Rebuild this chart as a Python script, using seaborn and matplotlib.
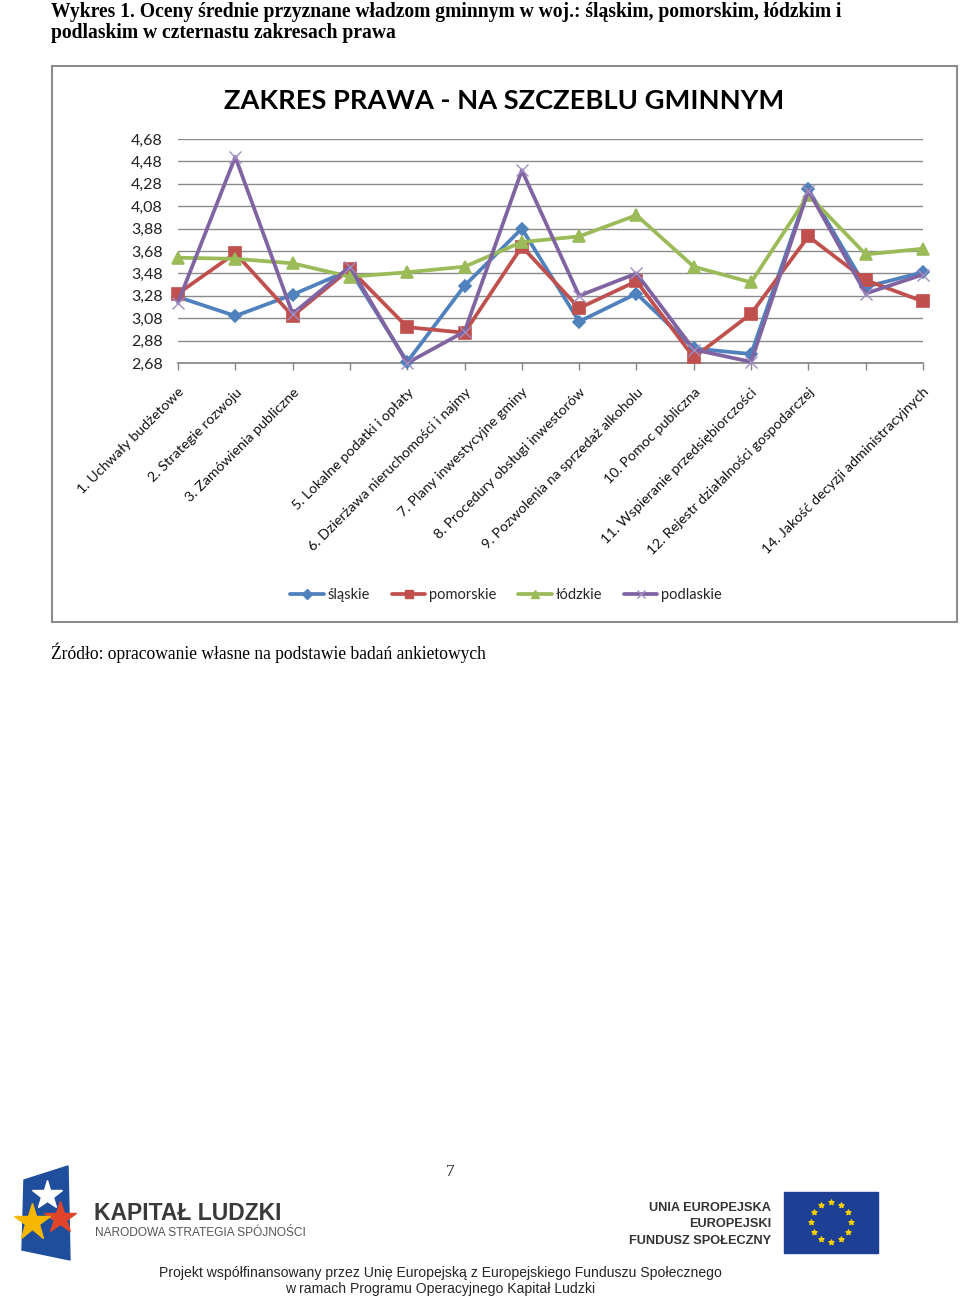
import numpy as np
import pandas as pd
import matplotlib
matplotlib.use("Agg")
import matplotlib.pyplot as plt
import matplotlib.patches as mpatches
import matplotlib.transforms as mtransforms
from matplotlib.lines import Line2D
import seaborn as sns

# ---------------- data ----------------
categories = [
    "1. Uchwały budżetowe", "2. Strategie rozwoju", "3. Zamówienia publiczne", "",
    "5. Lokalne podatki i opłaty", "6. Dzierżawa nieruchomości i najmy",
    "7. Plany inwestycyjne gminy", "8. Procedury obsługi inwestorów",
    "9. Pozwolenia na sprzedaż alkoholu", "10. Pomoc publiczna",
    "11. Wspieranie przedsiębiorczości", "12. Rejestr działalności gospodarczej", "",
    "14. Jakość decyzji administracyjnych",
]
series_names = ["śląskie", "pomorskie", "łódzkie", "podlaskie"]
slaskie   = [3.27, 3.10, 3.29, 3.51, 2.69, 3.37, 3.88, 3.05, 3.30, 2.81, 2.76, 4.23, 3.36, 3.49]
pomorskie = [3.30, 3.66, 3.10, 3.52, 3.00, 2.95, 3.72, 3.17, 3.41, 2.73, 3.12, 3.81, 3.42, 3.23]
lodzkie   = [3.62, 3.61, 3.57, 3.45, 3.49, 3.54, 3.76, 3.81, 4.00, 3.54, 3.40, 4.18, 3.65, 3.70]
podlaskie = [3.22, 4.52, 3.12, 3.54, 2.68, 2.96, 4.40, 3.28, 3.48, 2.80, 2.69, 4.22, 3.30, 3.47]
y_ticks = [2.68, 2.88, 3.08, 3.28, 3.48, 3.68, 3.88, 4.08, 4.28, 4.48, 4.68]

colors = {"śląskie": "#4F81BD", "pomorskie": "#C0504D", "łódzkie": "#9BBB59", "podlaskie": "#8064A2"}
markers = {"śląskie": "D", "pomorskie": "s", "łódzkie": "^", "podlaskie": "x"}
msizes = {"śląskie": 6.5, "pomorskie": 8.5, "łódzkie": 8.5, "podlaskie": 8.5}

df = pd.DataFrame({
    "pos": list(range(len(categories))) * 4,
    "value": slaskie + pomorskie + lodzkie + podlaskie,
    "woj": sum([[n] * len(categories) for n in series_names], []),
})

sns.set_theme(style="white")
plt.rcParams["font.family"] = ["Lato", "DejaVu Sans"]

W, H = 960, 1297
fig = plt.figure(figsize=(W / 100, H / 100), dpi=100)

# overlay axes in pixel coordinates for page decoration
page = fig.add_axes([0, 0, 1, 1], zorder=0)
page.set_xlim(0, W)
page.set_ylim(H, 0)
page.axis("off")

serif = ["Liberation Serif", "DejaVu Serif"]
narrow = ["Liberation Sans Narrow", "Liberation Sans", "DejaVu Sans"]
page.text(51, 12, "Wykres 1. Oceny średnie przyznane władzom gminnym w woj.: śląskim, pomorskim, łódzkim i",
          family=serif, fontweight="bold", fontsize=14.1, va="center", ha="left", color="black")
page.text(51, 33, "podlaskim w czternastu zakresach prawa",
          family=serif, fontweight="bold", fontsize=14.1, va="center", ha="left", color="black")

# chart frame
page.add_patch(mpatches.Rectangle((52, 66), 905, 556, fill=False, edgecolor="#8c8c8c", lw=1.5))
page.text(504, 101, "ZAKRES PRAWA - NA SZCZEBLU GMINNYM", fontsize=19.6, fontweight="bold",
          ha="center", va="center", color="black")

page.text(51, 653, "Źródło: opracowanie własne na podstawie badań ankietowych",
          family=serif, fontsize=12.65, va="center", ha="left", color="black")
page.text(450, 1172, "7", family=serif, fontsize=12.5, va="center", ha="center")

# footer logos (simplified)
page.add_patch(mpatches.Polygon([(24, 1180), (68, 1166), (70, 1260), (22, 1250)], closed=True,
                                color="#1f4e9c"))
page.plot([47], [1195], marker="*", color="white", markersize=22)
page.plot([60], [1218], marker="*", color="#e0452b", markersize=24)
page.plot([32], [1222], marker="*", color="#f5b700", markersize=28)
page.text(94, 1213, "KAPITAŁ LUDZKI", fontsize=16.5, color="#3a3a3a", ha="left", va="center",
          family=narrow, fontweight="bold")
page.text(95, 1233, "NARODOWA STRATEGIA SPÓJNOŚCI", fontsize=8.6, color="#555555", ha="left", va="center",
          family=narrow)
for yy, t in [(1208, "UNIA EUROPEJSKA"), (1224, "EUROPEJSKI"), (1241, "FUNDUSZ SPOŁECZNY")]:
    page.text(771, yy, t, fontsize=9.2, color="#333333", ha="right", va="center",
              family=narrow, fontweight="bold")
page.add_patch(mpatches.Rectangle((784, 1192), 94, 61, color="#1d3f94"))
ang = np.linspace(0, 2 * np.pi, 12, endpoint=False)
page.scatter(831 + 20 * np.cos(ang), 1222 + 20 * np.sin(ang), marker="*", s=14, color="#f5d000", zorder=3)
page.text(440, 1273, "Projekt współfinansowany przez Unię Europejską z Europejskiego Funduszu Społecznego",
          family=["Liberation Sans", "DejaVu Sans"], fontsize=10.1, ha="center", va="center")
page.text(440, 1289, "w ramach Programu Operacyjnego Kapitał Ludzki",
          family=["Liberation Sans", "DejaVu Sans"], fontsize=10.1, ha="center", va="center")

# ---------------- chart ----------------
ax = fig.add_axes([178 / W, 1 - 363 / H, (923 - 178) / W, (363 - 139) / H], zorder=2)
ax.patch.set_alpha(0)
for name in series_names:
    sub = df[df["woj"] == name]
    sns.lineplot(data=sub, x="pos", y="value", ax=ax, color=colors[name], lw=2.7,
                 marker=markers[name], markersize=msizes[name], markeredgewidth=1.2 if name != "podlaskie" else 1.0,
                 markeredgecolor=colors[name] if name != "podlaskie" else "#a08cc0",
                 legend=False, clip_on=False, zorder=3)

ax.set_xlim(0, len(categories) - 1)
ax.set_ylim(2.68, 4.68)
ax.set_yticks(y_ticks)
ax.set_yticklabels([f"{v:.2f}".replace(".", ",") for v in y_ticks], fontsize=11.5, color="#222222")
ax.set_xticks(range(len(categories)))
ax.set_xticklabels(categories, rotation=45, ha="right", rotation_mode="anchor", fontsize=10.3,
                   color="#111111")
offset = mtransforms.ScaledTranslation(-4 / 100, 0, fig.dpi_scale_trans)
for lbl in ax.get_xticklabels():
    lbl.set_transform(lbl.get_transform() + offset)
ax.tick_params(axis="x", direction="out", length=5, width=1, color="#868686", pad=11.5, bottom=True)
ax.tick_params(axis="y", length=0, pad=11)
ax.grid(axis="y", color="#8a8a8a", lw=1)
ax.set_axisbelow(True)
for s in ["top", "right", "left"]:
    ax.spines[s].set_visible(False)
ax.spines["bottom"].set_color("#868686")
ax.set_xlabel("")
ax.set_ylabel("")

handles = [Line2D([0], [0], color=colors[n], lw=2.7, marker=markers[n], markersize=msizes[n] * 0.75,
                  markeredgecolor=colors[n] if n != "podlaskie" else "#a08cc0") for n in series_names]
fig.legend(handles, series_names, loc="center", bbox_to_anchor=(506 / W, 1 - 595 / H), ncol=4,
           frameon=False, fontsize=10.5, handlelength=2.3, handletextpad=0.25, columnspacing=1.5)

fig.savefig("out.png", dpi=100)
